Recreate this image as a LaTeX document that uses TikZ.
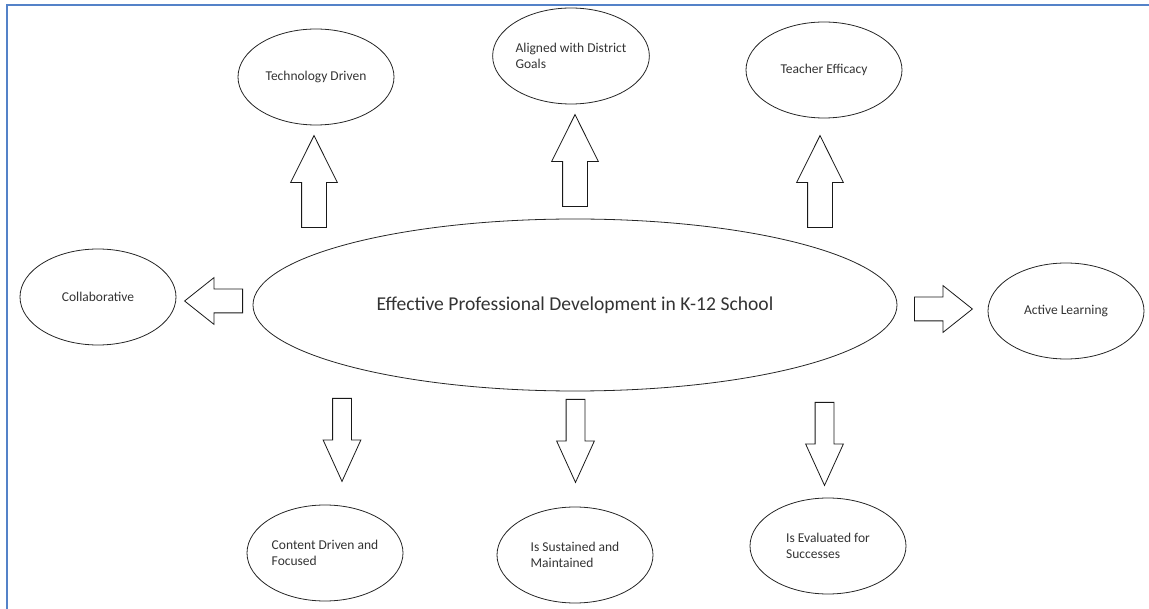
\documentclass[tikz,border=0pt]{standalone}
\usepackage{fontspec}
\setmainfont{Carlito}
\usetikzlibrary{shapes.geometric}
\usetikzlibrary{shapes.arrows}
\definecolor{frameblue}{RGB}{84,130,200}
\tikzset{
  topic/.style={ellipse, draw=black!85, line width=0.8pt, inner sep=0pt,
    minimum width=156pt, minimum height=96pt, text=black!80,
    align=left, font=\fontsize{13.5}{16}\selectfont},
  hub/.style={topic, minimum width=644pt, minimum height=172pt,
    font=\fontsize{19.6}{23}\selectfont},
  uparrow/.style={single arrow, draw=black!90, line width=0.8pt, rotate=90,
    anchor=tail, inner xsep=0pt, inner ysep=12pt, single arrow head extend=11pt,
    single arrow tip angle=53, minimum height=92pt},
  sidearrow/.style={single arrow, draw=black!90, line width=0.8pt, anchor=tail,
    inner xsep=0pt, inner ysep=11.5pt, single arrow head extend=11.5pt,
    single arrow tip angle=77, minimum height=58pt},
  downarrow/.style={single arrow, draw=black!90, line width=0.8pt, rotate=-90,
    anchor=tail, inner xsep=0pt, inner ysep=9pt, single arrow head extend=9.5pt,
    single arrow tip angle=49, minimum height=83pt}
}

\begin{document}
\begin{tikzpicture}[x=1pt, y=-1pt]
  \useasboundingbox (0,0) rectangle (1149,609);
  \draw[frameblue, line width=2pt] (7,609) -- (7,5) -- (1149,5);

  \node[hub] at (575,305) (pd) {Effective Professional Development in K-12 School};

  % top row
  \node[topic] at (316,77) (tech) {Technology Driven};
  \node[topic] at (571,56) (goals) {Aligned with District\\Goals};
  \node[topic] at (824,70) (teach) {Teacher Efficacy};
  % sides
  \node[topic] at (98,297) (collab) {Collaborative};
  \node[topic] at (1066,311) (active) {Active Learning};
  % bottom row
  \node[topic] at (325,553) (content) {Content Driven and\\Focused};
  \node[topic] at (575,555) (sustain) {Is Sustained and\\Maintained};
  \node[topic] at (828,546) (eval) {Is Evaluated for\\Successes};

  % arrows start at their tails
  \node[uparrow] at (314,228) (to-tech) {};
  \node[uparrow] at (575,207) (to-goals) {};
  \node[uparrow] at (820,228) (to-teach) {};
  \node[sidearrow, rotate=180] at (243,301) (to-collab) {};
  \node[sidearrow] at (914,309) (to-active) {};
  \node[downarrow] at (342,398) (to-content) {};
  \node[downarrow] at (575.5,399) (to-sustain) {};
  \node[downarrow] at (824.5,402) (to-eval) {};
\end{tikzpicture}
\end{document}
